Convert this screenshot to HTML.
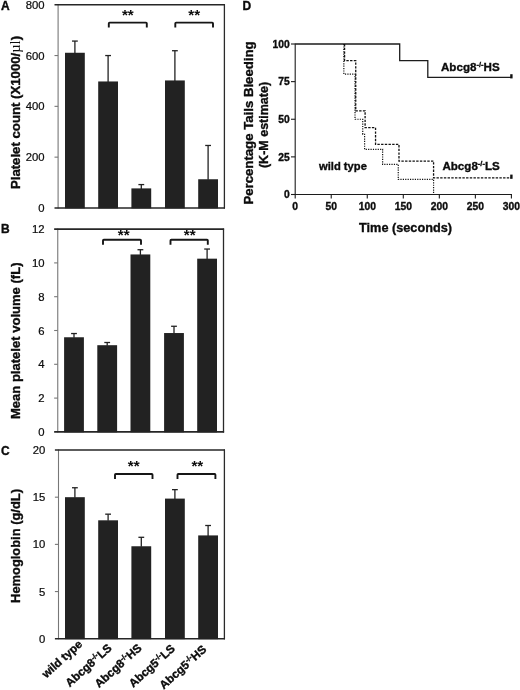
<!DOCTYPE html>
<html><head><meta charset="utf-8"><title>Figure</title>
<style>
html,body{margin:0;padding:0;background:#fff;}
body{width:520px;height:690px;overflow:hidden;}
svg{display:block;font-family:"Liberation Sans", sans-serif;filter:grayscale(1);}
</style></head><body>
<svg width="520" height="690" viewBox="0 0 520 690">
<rect width="520" height="690" fill="#fff"/>
<line x1="58.1" y1="4.25" x2="58.1" y2="208.45" stroke="#777" stroke-width="1.1"/>
<line x1="54.5" y1="4.75" x2="225.0" y2="4.75" stroke="#262626" stroke-width="1.6"/>
<line x1="224.4" y1="4.25" x2="224.4" y2="208.54999999999998" stroke="#2a2a2a" stroke-width="1.3"/>
<line x1="54.5" y1="207.95" x2="225.0" y2="207.95" stroke="#262626" stroke-width="1.6"/>
<text x="44.6" y="212.00" text-anchor="end" font-size="11.3" fill="#0c0c0c" stroke="#0c0c0c" stroke-width="0.22">0</text>
<line x1="54.5" y1="157.15" x2="58.1" y2="157.15" stroke="#777" stroke-width="1.1"/>
<text x="44.6" y="161.20" text-anchor="end" font-size="11.3" fill="#0c0c0c" stroke="#0c0c0c" stroke-width="0.22">200</text>
<line x1="54.5" y1="106.35" x2="58.1" y2="106.35" stroke="#777" stroke-width="1.1"/>
<text x="44.6" y="110.40" text-anchor="end" font-size="11.3" fill="#0c0c0c" stroke="#0c0c0c" stroke-width="0.22">400</text>
<line x1="54.5" y1="55.55" x2="58.1" y2="55.55" stroke="#777" stroke-width="1.1"/>
<text x="44.6" y="59.60" text-anchor="end" font-size="11.3" fill="#0c0c0c" stroke="#0c0c0c" stroke-width="0.22">600</text>
<text x="44.6" y="8.80" text-anchor="end" font-size="11.3" fill="#0c0c0c" stroke="#0c0c0c" stroke-width="0.22">800</text>
<rect x="65.0" y="52.76" width="19.8" height="155.59" fill="#222"/>
<line x1="74.9" y1="53.26" x2="74.9" y2="41.07" stroke="#222" stroke-width="1.3"/>
<line x1="72.0" y1="41.07" x2="77.80000000000001" y2="41.07" stroke="#222" stroke-width="1.3"/>
<rect x="98.19999999999999" y="81.46" width="19.8" height="126.89" fill="#222"/>
<line x1="108.1" y1="81.96" x2="108.1" y2="55.55" stroke="#222" stroke-width="1.3"/>
<line x1="105.19999999999999" y1="55.55" x2="111.0" y2="55.55" stroke="#222" stroke-width="1.3"/>
<rect x="131.4" y="188.39" width="19.8" height="19.96" fill="#222"/>
<line x1="141.3" y1="188.89" x2="141.3" y2="184.58" stroke="#222" stroke-width="1.3"/>
<line x1="138.4" y1="184.58" x2="144.20000000000002" y2="184.58" stroke="#222" stroke-width="1.3"/>
<rect x="165.0" y="80.44" width="19.8" height="127.91" fill="#222"/>
<line x1="174.9" y1="80.94" x2="174.9" y2="50.72" stroke="#222" stroke-width="1.3"/>
<line x1="172.0" y1="50.72" x2="177.8" y2="50.72" stroke="#222" stroke-width="1.3"/>
<rect x="198.2" y="179.25" width="19.8" height="29.10" fill="#222"/>
<line x1="208.1" y1="179.75" x2="208.1" y2="145.47" stroke="#222" stroke-width="1.3"/>
<line x1="205.2" y1="145.47" x2="211.0" y2="145.47" stroke="#222" stroke-width="1.3"/>
<path d="M108.8 27.6 V23.400000000000002 Q108.8 22.6 109.6 22.6 H146.0 Q146.8 22.6 146.8 23.400000000000002 V27.6" fill="none" stroke="#161616" stroke-width="1.9"/>
<text x="127.80000000000001" y="19.6" text-anchor="middle" font-size="15.2" font-weight="bold" fill="#0c0c0c">**</text>
<path d="M175.3 27.6 V23.400000000000002 Q175.3 22.6 176.10000000000002 22.6 H212.2 Q213 22.6 213 23.400000000000002 V27.6" fill="none" stroke="#161616" stroke-width="1.9"/>
<text x="194.15" y="19.6" text-anchor="middle" font-size="15.2" font-weight="bold" fill="#0c0c0c">**</text>
<line x1="57.75" y1="228.6" x2="57.75" y2="432.4" stroke="#777" stroke-width="1.1"/>
<line x1="54.15" y1="229.1" x2="224.1" y2="229.1" stroke="#262626" stroke-width="1.6"/>
<line x1="223.5" y1="228.6" x2="223.5" y2="432.5" stroke="#2a2a2a" stroke-width="1.3"/>
<line x1="54.15" y1="431.9" x2="224.1" y2="431.9" stroke="#262626" stroke-width="1.6"/>
<text x="44.6" y="435.95" text-anchor="end" font-size="11.3" fill="#0c0c0c" stroke="#0c0c0c" stroke-width="0.22">0</text>
<line x1="54.15" y1="398.10" x2="57.75" y2="398.10" stroke="#777" stroke-width="1.1"/>
<text x="44.6" y="402.15" text-anchor="end" font-size="11.3" fill="#0c0c0c" stroke="#0c0c0c" stroke-width="0.22">2</text>
<line x1="54.15" y1="364.30" x2="57.75" y2="364.30" stroke="#777" stroke-width="1.1"/>
<text x="44.6" y="368.35" text-anchor="end" font-size="11.3" fill="#0c0c0c" stroke="#0c0c0c" stroke-width="0.22">4</text>
<line x1="54.15" y1="330.50" x2="57.75" y2="330.50" stroke="#777" stroke-width="1.1"/>
<text x="44.6" y="334.55" text-anchor="end" font-size="11.3" fill="#0c0c0c" stroke="#0c0c0c" stroke-width="0.22">6</text>
<line x1="54.15" y1="296.70" x2="57.75" y2="296.70" stroke="#777" stroke-width="1.1"/>
<text x="44.6" y="300.75" text-anchor="end" font-size="11.3" fill="#0c0c0c" stroke="#0c0c0c" stroke-width="0.22">8</text>
<line x1="54.15" y1="262.90" x2="57.75" y2="262.90" stroke="#777" stroke-width="1.1"/>
<text x="44.6" y="266.95" text-anchor="end" font-size="11.3" fill="#0c0c0c" stroke="#0c0c0c" stroke-width="0.22">10</text>
<text x="44.6" y="233.15" text-anchor="end" font-size="11.3" fill="#0c0c0c" stroke="#0c0c0c" stroke-width="0.22">12</text>
<rect x="64.1" y="337.26" width="19.8" height="95.04" fill="#222"/>
<line x1="74.0" y1="337.76" x2="74.0" y2="333.54" stroke="#222" stroke-width="1.3"/>
<line x1="71.1" y1="333.54" x2="76.9" y2="333.54" stroke="#222" stroke-width="1.3"/>
<rect x="97.3" y="345.20" width="19.8" height="87.10" fill="#222"/>
<line x1="107.2" y1="345.70" x2="107.2" y2="342.50" stroke="#222" stroke-width="1.3"/>
<line x1="104.3" y1="342.50" x2="110.10000000000001" y2="342.50" stroke="#222" stroke-width="1.3"/>
<rect x="130.5" y="254.45" width="19.8" height="177.85" fill="#222"/>
<line x1="140.4" y1="254.95" x2="140.4" y2="249.72" stroke="#222" stroke-width="1.3"/>
<line x1="137.5" y1="249.72" x2="143.3" y2="249.72" stroke="#222" stroke-width="1.3"/>
<rect x="164.1" y="333.03" width="19.8" height="99.27" fill="#222"/>
<line x1="174.0" y1="333.53" x2="174.0" y2="326.27" stroke="#222" stroke-width="1.3"/>
<line x1="171.1" y1="326.27" x2="176.9" y2="326.27" stroke="#222" stroke-width="1.3"/>
<rect x="197.2" y="258.67" width="19.8" height="173.63" fill="#222"/>
<line x1="207.1" y1="259.17" x2="207.1" y2="249.04" stroke="#222" stroke-width="1.3"/>
<line x1="204.2" y1="249.04" x2="210.0" y2="249.04" stroke="#222" stroke-width="1.3"/>
<path d="M103 244.8 V240.60000000000002 Q103 239.8 103.8 239.8 H140.2 Q141 239.8 141 240.60000000000002 V244.8" fill="none" stroke="#161616" stroke-width="1.9"/>
<text x="123.7" y="240.1" text-anchor="middle" font-size="15.2" font-weight="bold" fill="#0c0c0c">**</text>
<path d="M170.5 244.8 V240.60000000000002 Q170.5 239.8 171.3 239.8 H207.0 Q207.8 239.8 207.8 240.60000000000002 V244.8" fill="none" stroke="#161616" stroke-width="1.9"/>
<text x="189.65" y="240.1" text-anchor="middle" font-size="15.2" font-weight="bold" fill="#0c0c0c">**</text>
<line x1="58.5" y1="449.5" x2="58.5" y2="639.25" stroke="#777" stroke-width="1.1"/>
<line x1="54.9" y1="450" x2="225.0" y2="450" stroke="#262626" stroke-width="1.6"/>
<line x1="224.4" y1="449.5" x2="224.4" y2="639.35" stroke="#2a2a2a" stroke-width="1.3"/>
<line x1="54.9" y1="638.75" x2="225.0" y2="638.75" stroke="#262626" stroke-width="1.6"/>
<text x="45.3" y="642.80" text-anchor="end" font-size="11.3" fill="#0c0c0c" stroke="#0c0c0c" stroke-width="0.22">0</text>
<line x1="54.9" y1="591.56" x2="58.5" y2="591.56" stroke="#777" stroke-width="1.1"/>
<text x="45.3" y="595.61" text-anchor="end" font-size="11.3" fill="#0c0c0c" stroke="#0c0c0c" stroke-width="0.22">5</text>
<line x1="54.9" y1="544.38" x2="58.5" y2="544.38" stroke="#777" stroke-width="1.1"/>
<text x="45.3" y="548.42" text-anchor="end" font-size="11.3" fill="#0c0c0c" stroke="#0c0c0c" stroke-width="0.22">10</text>
<line x1="54.9" y1="497.19" x2="58.5" y2="497.19" stroke="#777" stroke-width="1.1"/>
<text x="45.3" y="501.24" text-anchor="end" font-size="11.3" fill="#0c0c0c" stroke="#0c0c0c" stroke-width="0.22">15</text>
<text x="45.3" y="454.05" text-anchor="end" font-size="11.3" fill="#0c0c0c" stroke="#0c0c0c" stroke-width="0.22">20</text>
<rect x="65.0" y="497.19" width="19.8" height="141.96" fill="#222"/>
<line x1="74.9" y1="497.69" x2="74.9" y2="487.75" stroke="#222" stroke-width="1.3"/>
<line x1="72.0" y1="487.75" x2="77.80000000000001" y2="487.75" stroke="#222" stroke-width="1.3"/>
<rect x="98.19999999999999" y="520.31" width="19.8" height="118.84" fill="#222"/>
<line x1="108.1" y1="520.81" x2="108.1" y2="514.17" stroke="#222" stroke-width="1.3"/>
<line x1="105.19999999999999" y1="514.17" x2="111.0" y2="514.17" stroke="#222" stroke-width="1.3"/>
<rect x="131.4" y="546.26" width="19.8" height="92.89" fill="#222"/>
<line x1="141.3" y1="546.76" x2="141.3" y2="537.30" stroke="#222" stroke-width="1.3"/>
<line x1="138.4" y1="537.30" x2="144.20000000000002" y2="537.30" stroke="#222" stroke-width="1.3"/>
<rect x="165.0" y="498.60" width="19.8" height="140.55" fill="#222"/>
<line x1="174.9" y1="499.10" x2="174.9" y2="489.64" stroke="#222" stroke-width="1.3"/>
<line x1="172.0" y1="489.64" x2="177.8" y2="489.64" stroke="#222" stroke-width="1.3"/>
<rect x="198.2" y="535.41" width="19.8" height="103.74" fill="#222"/>
<line x1="208.1" y1="535.91" x2="208.1" y2="525.50" stroke="#222" stroke-width="1.3"/>
<line x1="205.2" y1="525.50" x2="211.0" y2="525.50" stroke="#222" stroke-width="1.3"/>
<path d="M115 479 V474.8 Q115 474 115.8 474 H151.7 Q152.5 474 152.5 474.8 V479" fill="none" stroke="#161616" stroke-width="1.9"/>
<text x="133.75" y="470.6" text-anchor="middle" font-size="15.2" font-weight="bold" fill="#0c0c0c">**</text>
<path d="M177.5 479 V474.8 Q177.5 474 178.3 474 H214.6 Q215.4 474 215.4 474.8 V479" fill="none" stroke="#161616" stroke-width="1.9"/>
<text x="197.35" y="470.6" text-anchor="middle" font-size="15.2" font-weight="bold" fill="#0c0c0c">**</text>
<text x="1.1" y="10.0" font-size="12" font-weight="bold" fill="#0c0c0c" stroke="#0c0c0c" stroke-width="0.35">A</text>
<text x="1.1" y="233.3" font-size="12" font-weight="bold" fill="#0c0c0c" stroke="#0c0c0c" stroke-width="0.35">B</text>
<text x="1.1" y="454.8" font-size="12" font-weight="bold" fill="#0c0c0c" stroke="#0c0c0c" stroke-width="0.35">C</text>
<text x="242.6" y="9.8" font-size="12" font-weight="bold" fill="#0c0c0c" stroke="#0c0c0c" stroke-width="0.35">D</text>
<text transform="translate(20.1 112.5) rotate(-90)" text-anchor="middle" font-size="13.2" font-weight="bold" fill="#0c0c0c" stroke="#0c0c0c" stroke-width="0.35">Platelet count (X1000/<tspan font-family="Liberation Serif, serif" font-weight="normal" font-size="14.5" stroke="none">µl</tspan>)</text>
<text transform="translate(20.1 340.8) rotate(-90)" text-anchor="middle" font-size="13.05" font-weight="bold" fill="#0c0c0c" stroke="#0c0c0c" stroke-width="0.35">Mean platelet volume (fL)</text>
<text transform="translate(20.1 546) rotate(-90)" text-anchor="middle" font-size="12.9" font-weight="bold" fill="#0c0c0c" stroke="#0c0c0c" stroke-width="0.35">Hemoglobin (g/dL)</text>
<text transform="translate(83 645.3) rotate(-42)" text-anchor="end" font-size="11.6" font-weight="bold" fill="#0c0c0c" stroke="#0c0c0c" stroke-width="0.35">wild type</text>
<text transform="translate(112.4 649) rotate(-42)" text-anchor="end" font-size="11.6" font-weight="bold" fill="#0c0c0c" stroke="#0c0c0c" stroke-width="0.35">Abcg8<tspan dy="-4" font-size="7.5">-/-</tspan><tspan dy="4">LS</tspan></text>
<text transform="translate(142.5 649) rotate(-42)" text-anchor="end" font-size="11.6" font-weight="bold" fill="#0c0c0c" stroke="#0c0c0c" stroke-width="0.35">Abcg8<tspan dy="-4" font-size="7.5">-/-</tspan><tspan dy="4">HS</tspan></text>
<text transform="translate(175.8 649.5) rotate(-42)" text-anchor="end" font-size="11.6" font-weight="bold" fill="#0c0c0c" stroke="#0c0c0c" stroke-width="0.35">Abcg5<tspan dy="-4" font-size="7.5">-/-</tspan><tspan dy="4">LS</tspan></text>
<text transform="translate(207.3 650.4) rotate(-42)" text-anchor="end" font-size="11.6" font-weight="bold" fill="#0c0c0c" stroke="#0c0c0c" stroke-width="0.35">Abcg5<tspan dy="-4" font-size="7.5">-/-</tspan><tspan dy="4">HS</tspan></text>
<line x1="295.2" y1="43.4" x2="295.2" y2="195.1" stroke="#1c1c1c" stroke-width="1.1"/>
<line x1="291.0" y1="194.5" x2="512.0" y2="194.5" stroke="#1c1c1c" stroke-width="1.1"/>
<line x1="291.0" y1="194.50" x2="295.2" y2="194.50" stroke="#1c1c1c" stroke-width="1.1"/>
<text x="289.8" y="198.20" text-anchor="end" font-size="10.3" font-weight="bold" fill="#0c0c0c" stroke="#0c0c0c" stroke-width="0.35">0</text>
<line x1="291.0" y1="156.88" x2="295.2" y2="156.88" stroke="#1c1c1c" stroke-width="1.1"/>
<text x="289.8" y="160.57" text-anchor="end" font-size="10.3" font-weight="bold" fill="#0c0c0c" stroke="#0c0c0c" stroke-width="0.35">25</text>
<line x1="291.0" y1="119.25" x2="295.2" y2="119.25" stroke="#1c1c1c" stroke-width="1.1"/>
<text x="289.8" y="122.95" text-anchor="end" font-size="10.3" font-weight="bold" fill="#0c0c0c" stroke="#0c0c0c" stroke-width="0.35">50</text>
<line x1="291.0" y1="81.63" x2="295.2" y2="81.63" stroke="#1c1c1c" stroke-width="1.1"/>
<text x="289.8" y="85.33" text-anchor="end" font-size="10.3" font-weight="bold" fill="#0c0c0c" stroke="#0c0c0c" stroke-width="0.35">75</text>
<line x1="291.0" y1="44.00" x2="295.2" y2="44.00" stroke="#1c1c1c" stroke-width="1.1"/>
<text x="289.8" y="47.70" text-anchor="end" font-size="10.3" font-weight="bold" fill="#0c0c0c" stroke="#0c0c0c" stroke-width="0.35">100</text>
<line x1="295.20" y1="194.5" x2="295.20" y2="198.5" stroke="#1c1c1c" stroke-width="1.1"/>
<text x="295.20" y="210.2" text-anchor="middle" font-size="10.3" font-weight="bold" fill="#0c0c0c" stroke="#0c0c0c" stroke-width="0.35">0</text>
<line x1="331.23" y1="194.5" x2="331.23" y2="198.5" stroke="#1c1c1c" stroke-width="1.1"/>
<text x="331.23" y="210.2" text-anchor="middle" font-size="10.3" font-weight="bold" fill="#0c0c0c" stroke="#0c0c0c" stroke-width="0.35">50</text>
<line x1="367.27" y1="194.5" x2="367.27" y2="198.5" stroke="#1c1c1c" stroke-width="1.1"/>
<text x="367.27" y="210.2" text-anchor="middle" font-size="10.3" font-weight="bold" fill="#0c0c0c" stroke="#0c0c0c" stroke-width="0.35">100</text>
<line x1="403.30" y1="194.5" x2="403.30" y2="198.5" stroke="#1c1c1c" stroke-width="1.1"/>
<text x="403.30" y="210.2" text-anchor="middle" font-size="10.3" font-weight="bold" fill="#0c0c0c" stroke="#0c0c0c" stroke-width="0.35">150</text>
<line x1="439.33" y1="194.5" x2="439.33" y2="198.5" stroke="#1c1c1c" stroke-width="1.1"/>
<text x="439.33" y="210.2" text-anchor="middle" font-size="10.3" font-weight="bold" fill="#0c0c0c" stroke="#0c0c0c" stroke-width="0.35">200</text>
<line x1="475.37" y1="194.5" x2="475.37" y2="198.5" stroke="#1c1c1c" stroke-width="1.1"/>
<text x="475.37" y="210.2" text-anchor="middle" font-size="10.3" font-weight="bold" fill="#0c0c0c" stroke="#0c0c0c" stroke-width="0.35">250</text>
<line x1="511.40" y1="194.5" x2="511.40" y2="198.5" stroke="#1c1c1c" stroke-width="1.1"/>
<text x="511.40" y="210.2" text-anchor="middle" font-size="10.3" font-weight="bold" fill="#0c0c0c" stroke="#0c0c0c" stroke-width="0.35">300</text>
<path d="M295.20 44.00 H399.70 V60.71 H427.80 V77.41 H511.40" fill="none" stroke="#1c1c1c" stroke-width="1.3"/>
<line x1="511.4" y1="74.21100000000001" x2="511.4" y2="78.41100000000002" stroke="#111" stroke-width="2.4"/>
<path d="M344.57 44.00 H344.57 V60.71 H355.74 V110.82 H365.10 V127.68 H375.55 V144.38 H398.98 V161.09 H433.57 V177.79 H511.40" fill="none" stroke="#111" stroke-width="1.3" stroke-dasharray="2.4 1.3"/>
<line x1="511.4" y1="174.5945" x2="511.4" y2="178.7945" stroke="#111" stroke-width="2.4"/>
<path d="M343.84 44.00 H343.84 V74.10 H355.02 V119.25 H362.73 V134.30 H364.60 V149.35 H382.62 V164.40 H398.26 V179.45 H433.57 V194.50" fill="none" stroke="#111" stroke-width="1.2" stroke-dasharray="1.2 1.2"/>
<text transform="translate(253.2 123) rotate(-90)" text-anchor="middle" font-size="13.2" font-weight="bold" fill="#0c0c0c" stroke="#0c0c0c" stroke-width="0.35">Percentage Tails Bleeding</text>
<text transform="translate(268 125) rotate(-90)" text-anchor="middle" font-size="12.5" font-weight="bold" fill="#0c0c0c" stroke="#0c0c0c" stroke-width="0.35">(K-M estimate)</text>
<text x="405.5" y="231.5" text-anchor="middle" font-size="12.7" font-weight="bold" fill="#0c0c0c" stroke="#0c0c0c" stroke-width="0.35">Time (seconds)</text>
<text x="319" y="169.6" font-size="11.2" font-weight="bold" fill="#0c0c0c" stroke="#0c0c0c" stroke-width="0.35">wild type</text>
<text x="441" y="70.5" font-size="11.6" font-weight="bold" fill="#0c0c0c" stroke="#0c0c0c" stroke-width="0.35">Abcg8<tspan dy="-4" font-size="7.5">-/-</tspan><tspan dy="4">HS</tspan></text>
<text x="442.4" y="170" font-size="11.6" font-weight="bold" fill="#0c0c0c" stroke="#0c0c0c" stroke-width="0.35">Abcg8<tspan dy="-4" font-size="7.5">-/-</tspan><tspan dy="4">LS</tspan></text>
</svg></body></html>
